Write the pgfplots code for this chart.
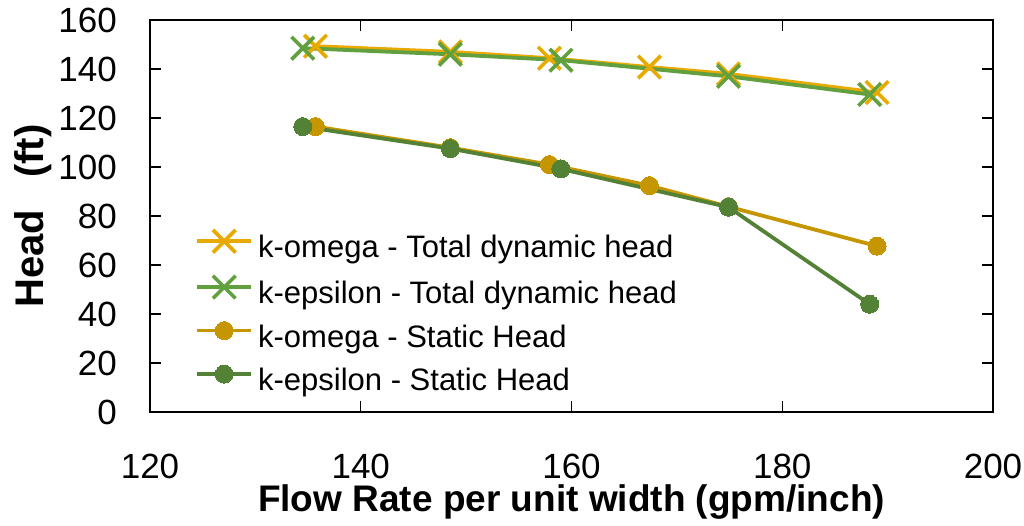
\documentclass[border=0pt]{standalone}
\usepackage{pgfplots}
\pgfplotsset{compat=1.18}
\usepackage{fontspec}
\setmainfont{Liberation Sans}

\definecolor{omegaTDH}{HTML}{E8A900}
\definecolor{epsTDH}{HTML}{62A03F}
\definecolor{omegaSH}{HTML}{C69600}
\definecolor{epsSH}{HTML}{538135}

\begin{document}
\begin{tikzpicture}
% fixed page frame around the axis box
\path[use as bounding box] (-150pt,-113pt) rectangle (874pt,412pt);
\begin{axis}[
  scale only axis,
  width=843pt, height=392pt,
  xmin=120, xmax=200, ymin=0, ymax=160,
  xtick={120,140,...,200},
  ytick={0,20,...,160},
  tick align=inside,
  major tick length=11pt,
  tick style={black, line width=1.3pt},
  axis line style={black, line width=1.5pt},
  /pgf/number format/assume math mode=true,
  tick label style={font=\fontsize{35}{40}\selectfont, inner sep=0pt},
  xticklabel style={anchor=base, yshift=-66pt},
  yticklabel style={anchor=east, xshift=-33pt},
  xlabel={\textbf{Flow Rate per unit width (gpm/inch)}},
  ylabel={\textbf{Head\hspace{0.8em}(ft)}},
  xlabel style={font=\fontsize{37}{42}\selectfont, inner sep=0pt,
    at={(axis description cs:0.5,-0.255)}, anchor=base},
  ylabel style={font=\fontsize{40}{44}\selectfont, inner sep=0pt,
    at={(axis description cs:-0.1163,0.5)}, anchor=south},
  legend cell align=left,
  legend style={
    at={(axis description cs:0.05,0.47)}, anchor=north west,
    draw=none, fill=none,
    font=\fontsize{31}{36}\selectfont,
    nodes={inner sep=0pt, text height=22pt, text depth=7pt},
    row sep=11pt, column sep=5pt,
  },
  legend image code/.code={%
    \draw[#1, mark repeat=2, mark phase=2]
      plot coordinates {(0pt,9pt) (27pt,9pt) (54pt,9pt)};},
]
% total dynamic head
\addplot[omegaTDH, line width=3.8pt, mark=x, mark size=16pt,
  mark options={line width=3.6pt}]
  coordinates {(135.7,149.3) (148.5,147.0) (157.9,144.4) (167.4,140.8) (174.9,138.0) (189.0,130.4)};
\addlegendentry{k-omega - Total dynamic head}
\addplot[epsTDH, line width=3.8pt, mark=x, mark size=16pt,
  mark options={line width=3.6pt}]
  coordinates {(134.5,148.5) (148.5,146.0) (159.0,143.6) (174.9,137.0) (188.3,129.6)};
\addlegendentry{k-epsilon - Total dynamic head}
% static head
\addplot[omegaSH, line width=3.8pt, mark=*, mark size=9pt,
  mark options={solid, fill=omegaSH, draw=omegaSH, line width=0pt}]
  coordinates {(135.7,116.5) (148.5,107.9) (157.9,101.0) (167.4,92.4) (174.9,83.8) (189.0,67.7)};
\addlegendentry{k-omega - Static Head}
\addplot[epsSH, line width=3.8pt, mark=*, mark size=9pt,
  mark options={solid, fill=epsSH, draw=epsSH, line width=0pt}]
  coordinates {(134.5,116.5) (148.5,107.5) (159.0,99.2) (174.9,83.6) (188.3,44.0)};
\addlegendentry{k-epsilon - Static Head}
\end{axis}
\end{tikzpicture}
\end{document}
